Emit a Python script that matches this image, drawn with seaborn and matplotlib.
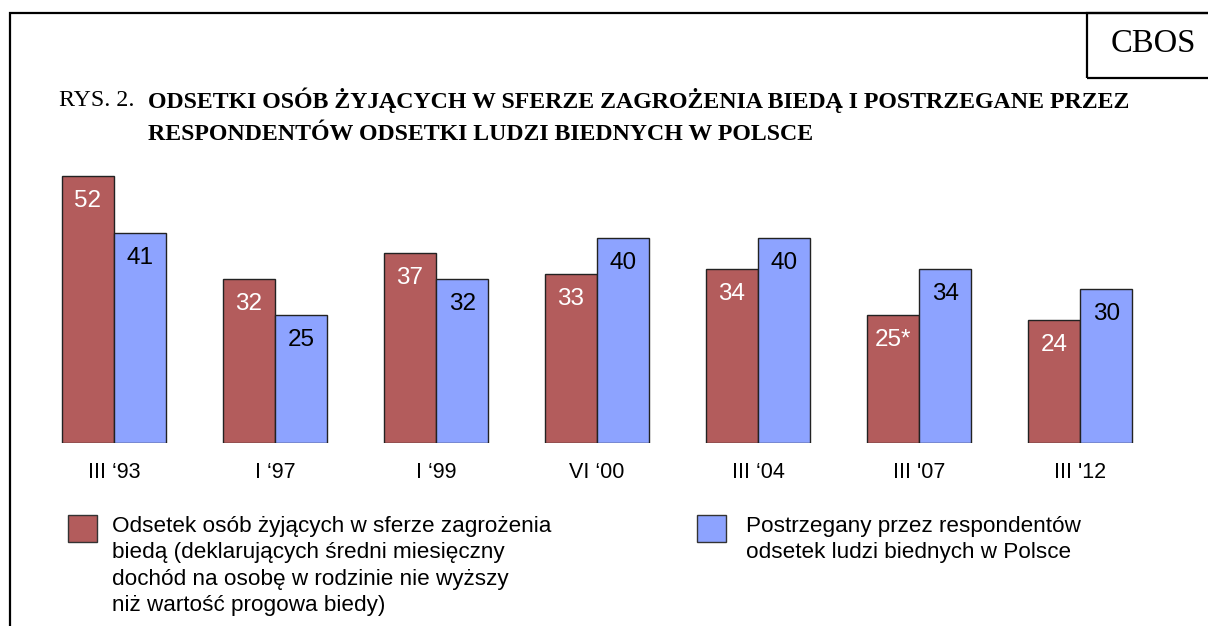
import pandas as pd
import matplotlib
matplotlib.use('Agg')
import matplotlib.pyplot as plt
from matplotlib.patches import Rectangle
import seaborn as sns

okresy = ["III \u201893", "I \u201897", "I \u201899", "VI \u201800", "III \u201804", "III '07", "III '12"]
zagrozeni = [52, 32, 37, 33, 34, 25, 24]
postrzegani = [41, 25, 32, 40, 40, 34, 30]
etykiety_zagrozeni = ['52', '32', '37', '33', '34', '25*', '24']
etykiety_postrzegani = ['41', '25', '32', '40', '40', '34', '30']
serie = ['zagrozeni', 'postrzegani']
kolory = ['#B35C5C', '#8DA3FF']

legenda_1 = ('Odsetek osób żyjących w sferze zagrożenia\n'
             'biedą (deklarujących średni miesięczny\n'
             'dochód na osobę w rodzinie nie wyższy\n'
             'niż wartość progowa biedy)')
legenda_2 = ('Postrzegany przez respondentów\n'
             'odsetek ludzi biednych w Polsce')

df = pd.DataFrame({
    'okres': okresy * 2,
    'wartosc': zagrozeni + postrzegani,
    'seria': [serie[0]] * len(okresy) + [serie[1]] * len(okresy),
})

W, H = 1208, 626
sns.set_theme(style='white')
plt.rcParams['font.family'] = ['Liberation Sans', 'DejaVu Sans']
plt.rcParams['text.color'] = 'black'

fig = plt.figure(figsize=(W / 100, H / 100), dpi=100)
ax = fig.add_axes([33.5 / W, (H - 443) / H, 1127 / W, 282 / H])

sns.barplot(
    data=df,
    x='okres',
    y='wartosc',
    hue='seria',
    palette=kolory,
    saturation=1,
    width=0.652,
    edgecolor='#222222',
    linewidth=1,
    legend=False,
    ax=ax
)

ax.set_xlim(-0.5, 6.5)
ax.set_ylim(0, 55)
ax.set_xlabel('')
ax.set_ylabel('')
ax.set_yticks([])
ax.tick_params(axis='x', length=0, pad=14, labelsize=15.5, labelcolor='black')
sns.despine(ax=ax, left=True, bottom=True)

ax.bar_label(ax.containers[0], labels=etykiety_zagrozeni, padding=-26, fontsize=17.5, color='white')
ax.bar_label(ax.containers[1], labels=etykiety_postrzegani, padding=-26, fontsize=17.5, color='black')

# legenda rysowana recznie, kwadrat na wysokosci pierwszej linii
for (x_kw, x_txt, tekst, kolor) in [(68, 112, legenda_1, kolory[0]), (697, 746, legenda_2, kolory[1])]:
    fig.add_artist(Rectangle((x_kw / W, (H - 542) / H), 29 / W, 27 / H, transform=fig.transFigure,
                             facecolor=kolor, edgecolor='#333333', linewidth=1))
    fig.text(x_txt / W, (H - 516) / H, tekst, ha='left', va='top', fontsize=16.2, linespacing=1.34)

# tytul
fig.text(59 / W, (H - 100) / H, 'RYS. 2.', family=['Liberation Serif'], fontsize=17.2, va='center')
fig.text(148 / W, (H - 100) / H, 'ODSETKI OSÓB ŻYJĄCYCH W SFERZE ZAGROŻENIA BIEDĄ I POSTRZEGANE PRZEZ',
         family=['Liberation Serif'], fontsize=17.2, fontweight='bold', va='center')
fig.text(148 / W, (H - 135) / H, 'RESPONDENTÓW ODSETKI LUDZI BIEDNYCH W POLSCE',
         family=['Liberation Serif'], fontsize=17.2, fontweight='bold', va='center')

# ramka i pole CBOS
fig.add_artist(Rectangle((10 / W, -20 / H), 1220 / W, (H - 13 + 20) / H, transform=fig.transFigure,
                         facecolor='none', edgecolor='black', linewidth=1.6))
fig.add_artist(Rectangle((1087 / W, (H - 78) / H), 140 / W, 65 / H, transform=fig.transFigure,
                         facecolor='none', edgecolor='black', linewidth=1.6))
fig.text(1153 / W, (H - 44) / H, 'CBOS', family=['Liberation Serif'], fontsize=23.5, ha='center', va='center')

fig.savefig('out.png', dpi=100)
